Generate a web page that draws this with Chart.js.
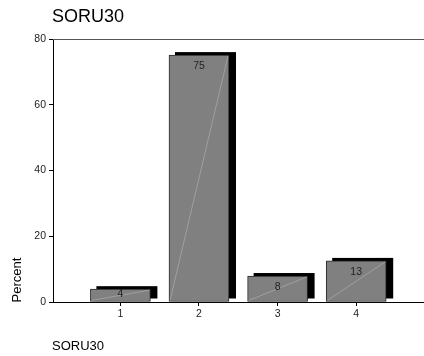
<!DOCTYPE html>
<html>
<head>
<meta charset="utf-8">
<script src="https://cdn.jsdelivr.net/npm/chart.js@4/dist/chart.umd.min.js"></script>
<style>
html,body{margin:0;padding:0;background:#fff;}
#wrap{width:424px;height:356px;position:relative;}
</style>
</head>
<body>
<div id="wrap"><canvas id="c" width="424" height="356"></canvas></div>
<script>
const categories = [1, 2, 3, 4];
const percents = [3.9, 75.1, 7.9, 12.5];
const yTicks = [0, 20, 40, 60, 80];
const chartTitle = 'SORU30';
const xTitle = 'SORU30';
const yTitle = 'Percent';

const FONT = "'Liberation Sans', Arial, sans-serif";

const decor = {
  id: 'decor',
  beforeDatasetsDraw(chart) {
    const ctx = chart.ctx;
    const meta = chart.getDatasetMeta(0);
    ctx.save();
    ctx.fillStyle = '#000';
    meta.data.forEach(b => {
      const w = b.width;
      ctx.fillRect(b.x - w / 2 + 6, b.y - 3, w + 1, b.base - b.y);
    });
    ctx.restore();
  },
  afterDatasetsDraw(chart) {
    const ctx = chart.ctx;
    const meta = chart.getDatasetMeta(0);
    ctx.save();
    meta.data.forEach((b, i) => {
      const w = b.width;
      ctx.strokeStyle = '#b4b4b4';
      ctx.lineWidth = 0.6;
      ctx.beginPath();
      ctx.moveTo(b.x - w / 2 + 1, b.base - 1);
      ctx.lineTo(b.x + w / 2 - 1, b.y + 1);
      ctx.stroke();
      ctx.fillStyle = '#222';
      ctx.font = '10.5px ' + FONT;
      ctx.textAlign = 'center';
      ctx.textBaseline = 'middle';
      const ly = Math.min(b.y + 11, b.base - 7);
      ctx.fillText(String(Math.round(percents[i])), b.x, ly);
    });
    ctx.restore();
  },
  afterDraw(chart) {
    const ctx = chart.ctx;
    const a = chart.chartArea;
    ctx.save();
    ctx.lineWidth = 1;
    ctx.strokeStyle = '#555';
    ctx.beginPath();
    ctx.moveTo(a.left, Math.round(a.top) + 0.5);
    ctx.lineTo(424, Math.round(a.top) + 0.5);
    ctx.stroke();
    ctx.strokeStyle = '#000';
    ctx.beginPath();
    ctx.moveTo(a.left - 3, Math.round(a.bottom) + 0.5);
    ctx.lineTo(424, Math.round(a.bottom) + 0.5);
    ctx.stroke();
    ctx.fillStyle = '#000';
    ctx.textBaseline = 'middle';
    ctx.textAlign = 'left';
    ctx.font = '18px ' + FONT;
    ctx.fillText(chartTitle, 52, 17);
    ctx.font = '13px ' + FONT;
    ctx.fillText(xTitle, 52, 346);
    ctx.translate(17, 280);
    ctx.rotate(-Math.PI / 2);
    ctx.textAlign = 'center';
    ctx.font = '13px ' + FONT;
    ctx.fillText(yTitle, 0, 0);
    ctx.restore();
  }
};

new Chart(document.getElementById('c'), {
  type: 'bar',
  data: {
    datasets: [{
      data: categories.map((c, i) => ({ x: c, y: percents[i] })),
      backgroundColor: '#808080',
      borderColor: '#2a2a2a',
      borderWidth: 1,
      borderSkipped: false,
      barThickness: 60
    }]
  },
  options: {
    responsive: false,
    animation: false,
    devicePixelRatio: 1,
    layout: { padding: { top: 39, left: 0, right: 0, bottom: 0 } },
    plugins: { legend: { display: false }, tooltip: { enabled: false }, title: { display: false } },
    scales: {
      x: {
        type: 'linear',
        offset: false,
        min: 0.1425,
        max: 4.8626,
        afterFit(s) { s.height = 54; },
        afterBuildTicks(s) { s.ticks = categories.map(v => ({ value: v })); },
        grid: { offset: false, drawOnChartArea: false, drawTicks: true, tickLength: 4, color: '#000' },
        border: { display: true, color: '#000', width: 1 },
        ticks: { color: '#222', font: { family: FONT, size: 10.5 }, padding: 2, maxRotation: 0,
                 callback: v => String(v) }
      },
      y: {
        min: 0,
        max: 80,
        afterFit(s) { s.width = 53; },
        afterBuildTicks(s) { s.ticks = yTicks.map(v => ({ value: v })); },
        grid: { drawOnChartArea: false, drawTicks: true, tickLength: 4, color: '#000' },
        border: { display: true, color: '#000', width: 1 },
        ticks: { color: '#222', font: { family: FONT, size: 10.5 }, padding: 3 }
      }
    }
  },
  plugins: [decor]
});
</script>
</body>
</html>
